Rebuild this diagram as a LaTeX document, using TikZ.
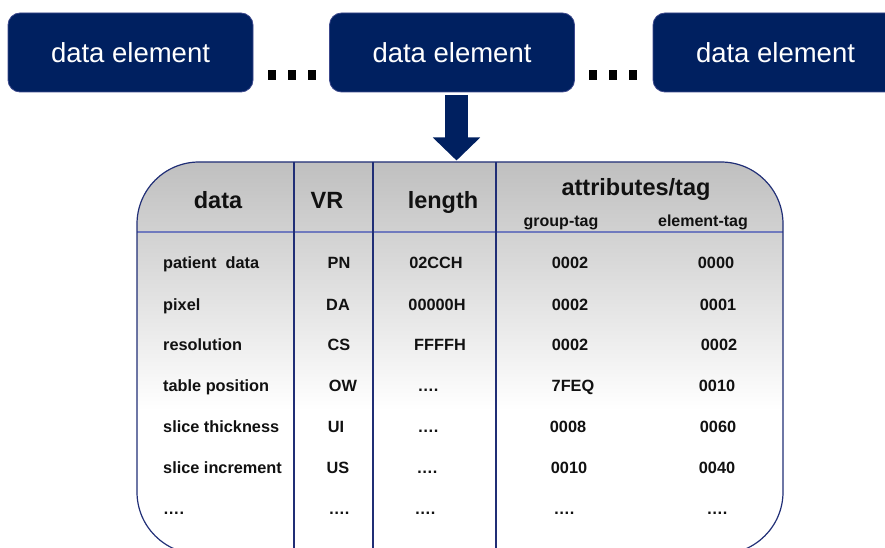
\documentclass[tikz,border=0pt]{standalone}
\usepackage{fontspec}
\setmainfont{Liberation Sans}
\usetikzlibrary{arrows.meta}

\definecolor{navy}{RGB}{0,32,96}
\definecolor{navyedge}{RGB}{60,72,140}
\definecolor{rule}{RGB}{32,46,118}
\definecolor{headrule}{RGB}{112,122,190}
\definecolor{ink}{RGB}{17,17,17}

\tikzset{
  debox/.style={fill=navy, draw=navyedge, line width=0.8pt, rounded corners=12pt,
    minimum width=245pt, minimum height=79pt, text=white,
    font=\fontsize{27.5}{30}\selectfont},
  dotsq/.style={fill=black},
  bigarrow/.style={draw=navy, line width=23pt,
    -{Triangle[length=23pt,width=46pt]}},
  headtxt/.style={anchor=base, text=ink, font=\fontsize{23.5}{26}\selectfont\bfseries, inner sep=0pt},
  subtxt/.style={anchor=base, text=ink, font=\fontsize{16}{18}\selectfont\bfseries, inner sep=0pt},
  celltxt/.style={anchor=base, text=ink, font=\fontsize{16.3}{18}\selectfont\bfseries, inner sep=0pt},
  namecell/.style={celltxt, anchor=base west},
}

\begin{document}
\begin{tikzpicture}[x=1pt,y=-1pt]
\useasboundingbox (0,0) rectangle (885,548);
\clip (0,0) rectangle (885,548);

% row of data elements
\node[debox] (de1) at (130.5,52.5) {data element};
\node[debox] (de2) at (452,52.5) {data element};
\node[debox] (de3) at (775.5,52.5) {data element};

% ellipsis squares between the elements
\foreach \x in {268,288,308,589,609,629}
  \fill[dotsq] (\x,70.5) rectangle +(8,9.5);

% zoom arrow into the element structure
\coordinate (arrtail) at (456.5,95);
\coordinate (arrtip) at (456.5,160.5);
\draw[bigarrow] (arrtail) -- (arrtip);

% element structure table: shaded rounded frame
\begin{scope}
  \clip[rounded corners=62pt] (137,162) rectangle (783,554);
  \shade[top color=gray!50, bottom color=white] (137,162) rectangle (783,410);
  \draw[headrule, line width=1.2pt] (137,232) -- (783,232);
  \foreach \x in {294,373,496}
    \draw[rule, line width=1.2pt] (\x,162) -- (\x,554);
\end{scope}
\draw[rule, line width=1.2pt, rounded corners=62pt] (137,162) rectangle (783,554);

% header
\node[headtxt] (hdata) at (218,208) {data};
\node[headtxt] (hvr) at (327,208) {VR};
\node[headtxt] (hlen) at (443,208) {length};
\node[headtxt] (hatt) at (636,195) {attributes/tag};
\node[subtxt] (hgrp) at (561,226) {group-tag};
\node[subtxt] (helt) at (703,226) {element-tag};

% body rows
\node[namecell] (n1) at (163,268) {patient\ \ data};
\node[namecell] (n2) at (163,310) {pixel};
\node[namecell] (n3) at (163,350) {resolution};
\node[namecell] (n4) at (163,391) {table position};
\node[namecell] (n5) at (163,432) {slice thickness};
\node[namecell] (n6) at (163,473) {slice increment};
\node[namecell] (n7) at (163,514) {….};

\node[celltxt] (v1) at (339,268) {PN};
\node[celltxt] (v2) at (338,310) {DA};
\node[celltxt] (v3) at (339,350) {CS};
\node[celltxt] (v4) at (343,391) {OW};
\node[celltxt] (v5) at (336,432) {UI};
\node[celltxt] (v6) at (338,473) {US};
\node[celltxt] (v7) at (339,514) {….};

\node[celltxt] (l1) at (436,268) {02CCH};
\node[celltxt] (l2) at (437,310) {00000H};
\node[celltxt] (l3) at (440,350) {FFFFH};
\node[celltxt] (l4) at (428,391) {….};
\node[celltxt] (l5) at (428,432) {….};
\node[celltxt] (l6) at (427,473) {….};
\node[celltxt] (l7) at (425,514) {….};

\node[celltxt] (g1) at (570,268) {0002};
\node[celltxt] (g2) at (570,310) {0002};
\node[celltxt] (g3) at (570,350) {0002};
\node[celltxt] (g4) at (573,391) {7FEQ};
\node[celltxt] (g5) at (568,432) {0008};
\node[celltxt] (g6) at (569,473) {0010};
\node[celltxt] (g7) at (564,514) {….};

\node[celltxt] (e1) at (716,268) {0000};
\node[celltxt] (e2) at (718,310) {0001};
\node[celltxt] (e3) at (719,350) {0002};
\node[celltxt] (e4) at (717,391) {0010};
\node[celltxt] (e5) at (718,432) {0060};
\node[celltxt] (e6) at (717,473) {0040};
\node[celltxt] (e7) at (717,514) {….};
\end{tikzpicture}
\end{document}
